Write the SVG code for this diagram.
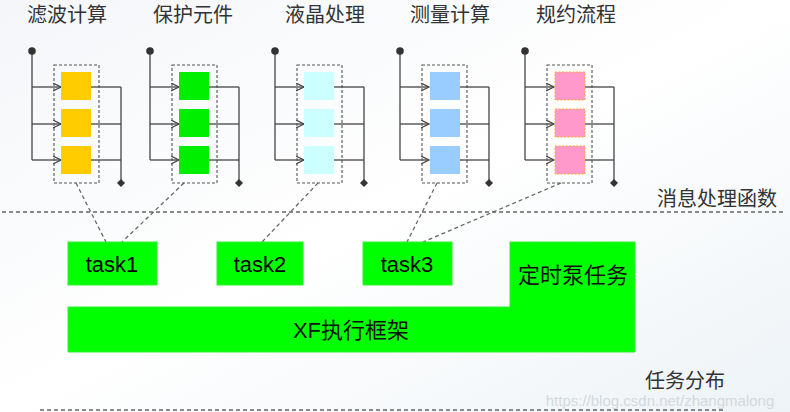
<svg xmlns="http://www.w3.org/2000/svg" width="790" height="412" viewBox="0 0 790 412">
<defs>
<linearGradient id="bg" x1="0" y1="0" x2="1" y2="1">
<stop offset="0" stop-color="#f4f6f9"/>
<stop offset="0.5" stop-color="#ffffff"/>
<stop offset="1" stop-color="#eef3f7"/>
</linearGradient>
<marker id="arr" markerUnits="userSpaceOnUse" markerWidth="10" markerHeight="10" refX="8" refY="4" orient="auto">
<path d="M0,0 L8,4 L0,8" fill="none" stroke="#444" stroke-width="1.2"/>
</marker>
<g id="unit">
<line class="ln" x1="0" y1="51" x2="0" y2="160"/>
<line class="ln" x1="0" y1="87" x2="29" y2="87" marker-end="url(#arr)"/>
<line class="ln" x1="0" y1="124" x2="29" y2="124" marker-end="url(#arr)"/>
<line class="ln" x1="0" y1="160" x2="29" y2="160" marker-end="url(#arr)"/>
<circle cx="0" cy="51" r="3.8" fill="#333"/>
<rect class="dbox" x="22" y="65" width="45" height="118"/>
<line class="ln" x1="59" y1="87" x2="89" y2="87"/>
<line class="ln" x1="59" y1="124" x2="89" y2="124"/>
<line class="ln" x1="59" y1="160" x2="89" y2="160"/>
<line class="ln" x1="89" y1="87" x2="89" y2="183"/>
<path d="M89,179 L93,183 L89,187 L85,183 Z" fill="#333"/>
</g>
</defs>
<style>
.ln{stroke:#444;stroke-width:1.3;fill:none}
.dbox{fill:none;stroke:#555;stroke-width:1.1;stroke-dasharray:3,2}
.dash{stroke:#666;stroke-width:1.3;stroke-dasharray:4,3;fill:none}
.title{font-family:"Noto Sans CJK SC","Noto Sans",sans-serif;font-size:20px;fill:#333;text-anchor:middle}
.lab{font-family:"Liberation Sans","Noto Sans CJK SC",sans-serif;font-size:22px;fill:#000;text-anchor:middle}
.cjk{font-family:"Liberation Sans","Noto Sans CJK SC",sans-serif;font-size:22px;fill:#111;text-anchor:middle}
.green{fill:#00ff00;stroke:#33ee33;stroke-width:1}
</style>
<rect x="0" y="0" width="790" height="412" fill="url(#bg)"/>

<g id="connectors">
<line class="dash" x1="2" y1="212" x2="783" y2="212"/>
<line class="dash" x1="40" y1="410" x2="723" y2="410"/>
<line class="dash" x1="76" y1="183" x2="106" y2="242"/>
<line class="dash" x1="184" y1="183" x2="122" y2="242"/>
<line class="dash" x1="318" y1="183" x2="262" y2="242"/>
<line class="dash" x1="437" y1="183" x2="407" y2="242"/>
<line class="dash" x1="561" y1="183" x2="423" y2="242"/>
</g>

<g id="node-lvbo">
<text class="title" x="67" y="22">滤波计算</text>
<use href="#unit" transform="translate(32,0)"/>
<g fill="#ffcc00">
<rect x="61" y="72" width="30" height="28"/>
<rect x="61" y="109" width="30" height="28"/>
<rect x="61" y="146" width="30" height="28"/>
</g>
</g>

<g id="node-baohu">
<text class="title" x="193" y="22">保护元件</text>
<use href="#unit" transform="translate(150,0)"/>
<g fill="#00ee00">
<rect x="179" y="72" width="30" height="28"/>
<rect x="179" y="109" width="30" height="28"/>
<rect x="179" y="146" width="30" height="28"/>
</g>
</g>

<g id="node-yejing">
<text class="title" x="325" y="22">液晶处理</text>
<use href="#unit" transform="translate(275,0)"/>
<g fill="#ccffff">
<rect x="304" y="72" width="30" height="28"/>
<rect x="304" y="109" width="30" height="28"/>
<rect x="304" y="146" width="30" height="28"/>
</g>
</g>

<g id="node-celiang">
<text class="title" x="450" y="22">测量计算</text>
<use href="#unit" transform="translate(400,0)"/>
<g fill="#99ccff">
<rect x="430" y="72" width="30" height="28"/>
<rect x="430" y="109" width="30" height="28"/>
<rect x="430" y="146" width="30" height="28"/>
</g>
</g>

<g id="node-guiyue">
<text class="title" x="576" y="22">规约流程</text>
<use href="#unit" transform="translate(525,0)"/>
<g fill="#ff99cc" stroke="#ffaa33" stroke-width="1" stroke-dasharray="2,1.5">
<rect x="555" y="72" width="30" height="28"/>
<rect x="555" y="109" width="30" height="28"/>
<rect x="555" y="146" width="30" height="28"/>
</g>
</g>

<g id="label-msg">
<text class="title" x="717" y="206">消息处理函数</text>
</g>

<g id="node-task1">
<rect class="green" x="68" y="242" width="89" height="43"/>
<text class="lab" x="112" y="272">task1</text>
</g>
<g id="node-task2">
<rect class="green" x="217" y="242" width="86" height="43"/>
<text class="lab" x="260" y="272">task2</text>
</g>
<g id="node-task3">
<rect class="green" x="363" y="242" width="89" height="43"/>
<text class="lab" x="407" y="272">task3</text>
</g>

<g id="node-xf">
<path class="green" d="M68,307 L510,307 L510,242 L635,242 L635,352 L68,352 Z"/>
<text class="cjk" x="351" y="338">XF执行框架</text>
<text class="cjk" x="573" y="283">定时泵任务</text>
</g>

<g id="label-dist">
<text class="title" x="685" y="388">任务分布</text>
</g>

<text x="660" y="406" font-family="Liberation Sans, sans-serif" font-size="15" fill="#d4d8dc" text-anchor="middle">https://blog.csdn.net/zhangmalong</text>
</svg>
